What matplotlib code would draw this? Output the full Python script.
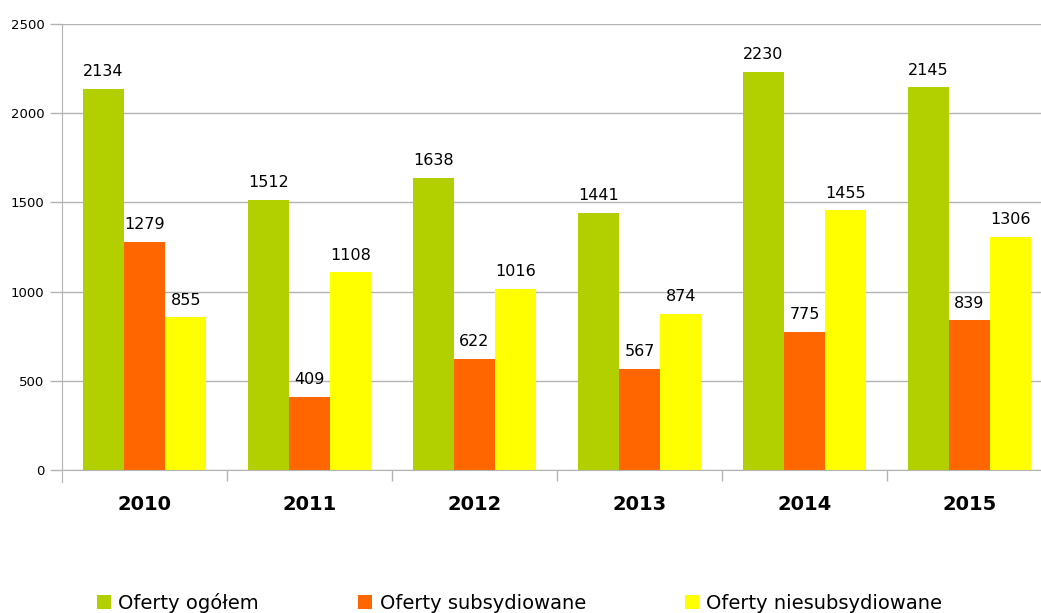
import matplotlib
matplotlib.use("Agg")
import matplotlib.pyplot as plt
import numpy as np

years = ["2010", "2011", "2012", "2013", "2014", "2015"]
series_names = ["Oferty ogółem", "Oferty subsydiowane", "Oferty niesubsydiowane"]
ogolem = [2134, 1512, 1638, 1441, 2230, 2145]
subsydiowane = [1279, 409, 622, 567, 775, 839]
niesubsydiowane = [855, 1108, 1016, 874, 1455, 1306]
colors = ["#b2d000", "#ff6600", "#ffff00"]

fig = plt.figure(figsize=(10.41, 6.13), dpi=100)
ax = fig.add_axes([62/1041, (613-470)/613, 990/1041, 446/613])

x = np.arange(len(years))
w = 0.25
grid_c = "#b3b3b3"
for i, (vals, c, name) in enumerate(zip([ogolem, subsydiowane, niesubsydiowane], colors, series_names)):
    bars = ax.bar(x + (i - 1) * w, vals, width=w, color=c, label=name, zorder=3)
    for b, v in zip(bars, vals):
        ax.text(b.get_x() + b.get_width() / 2, v + 55, str(v), ha="center", va="bottom",
                fontsize=11.5, color="black", zorder=4)

ax.set_xlim(-0.5, len(years) - 0.5)
ax.set_ylim(0, 2500)
ax.set_yticks(np.arange(0, 2501, 500))
ax.yaxis.grid(True, color=grid_c, linewidth=1, zorder=0)
ax.tick_params(axis="y", length=8.5, width=1, color=grid_c, labelsize=9.5, pad=4)

ax.set_xticks(x)
ax.set_xticklabels(years, fontsize=14, fontweight="bold")
ax.set_xticks(np.arange(0.5, len(years) - 0.5, 1), minor=True)
ax.tick_params(axis="x", which="major", length=0, pad=18)
ax.tick_params(axis="x", which="minor", length=8, width=1, color=grid_c)

for s in ["top", "right"]:
    ax.spines[s].set_visible(False)
ax.spines["left"].set_color(grid_c)
ax.spines["bottom"].set_color(grid_c)
ax.spines["left"].set_bounds(-65, 2500)
ax.spines["bottom"].set_zorder(5)

leg = fig.legend(loc="center left", bbox_to_anchor=(97/1041, (613-603)/613), ncol=3, frameon=False,
                 fontsize=14, handlelength=0.7, handleheight=0.7, handletextpad=0.4,
                 columnspacing=5.1, borderaxespad=0, borderpad=0)

fig.savefig("out.png", dpi=100)
